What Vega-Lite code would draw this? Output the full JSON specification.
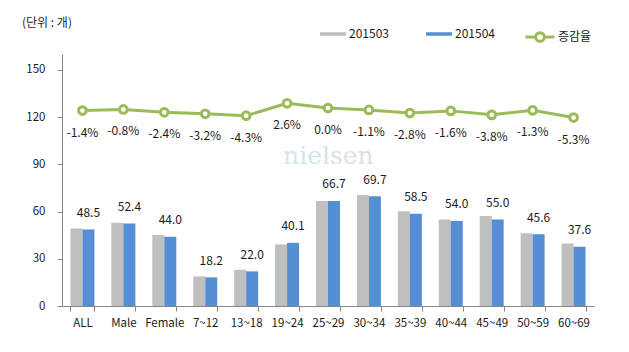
{
  "$schema": "https://vega.github.io/schema/vega-lite/v6.json",
  "autosize": {"type": "none"},
  "width": 532,
  "height": 252,
  "padding": {"left": 62, "top": 54, "right": 35, "bottom": 46},
  "background": "white",
  "title": {"text": "(단위 : 개)", "anchor": "start", "frame": "group", "dx": -40, "offset": 0, "dy": 9, "fontSize": 12, "fontWeight": "normal", "font": "Noto Sans CJK KR", "color": "#1f1f1f"},
  "config": {
    "view": {"stroke": null},
    "font": "Noto Sans CJK KR",
    "locale": {"number": {"decimal": ".", "thousands": ",", "grouping": [3], "currency": ["$", ""], "minus": "-"}}
  },
  "data": {"values": [
    {"group": "ALL", "201503": 49.2, "201504": 48.5, "rate": -0.014},
    {"group": "Male", "201503": 52.8, "201504": 52.4, "rate": -0.008},
    {"group": "Female", "201503": 45.1, "201504": 44.0, "rate": -0.024},
    {"group": "7~12", "201503": 18.8, "201504": 18.2, "rate": -0.032},
    {"group": "13~18", "201503": 23.0, "201504": 22.0, "rate": -0.043},
    {"group": "19~24", "201503": 39.1, "201504": 40.1, "rate": 0.026},
    {"group": "25~29", "201503": 66.7, "201504": 66.7, "rate": 0.0},
    {"group": "30~34", "201503": 70.5, "201504": 69.7, "rate": -0.011},
    {"group": "35~39", "201503": 60.2, "201504": 58.5, "rate": -0.028},
    {"group": "40~44", "201503": 54.9, "201504": 54.0, "rate": -0.016},
    {"group": "45~49", "201503": 57.2, "201504": 55.0, "rate": -0.038},
    {"group": "50~59", "201503": 46.2, "201504": 45.6, "rate": -0.013},
    {"group": "60~69", "201503": 39.7, "201504": 37.6, "rate": -0.053}
  ]},
  "encoding": {
    "x": {
      "field": "group", "type": "nominal",
      "scale": {"domain": ["ALL", "Male", "Female", "7~12", "13~18", "19~24", "25~29", "30~34", "35~39", "40~44", "45~49", "50~59", "60~69"], "paddingInner": 0.414, "paddingOuter": 0.207},
      "axis": {"title": null, "labelAngle": 0, "domainColor": "#868686", "tickColor": "#868686", "tickBand": "extent", "tickSize": 5, "labelFontSize": 11.5, "labelColor": "#1a1a1a", "labelPadding": 6}
    }
  },
  "layer": [
    {
      "layer": [
        {
          "data": {"values": [{"w": "niel"}]},
          "mark": {"type": "text", "font": "DejaVu Serif", "fontSize": 25, "color": "#d3e6ee", "baseline": "middle", "align": "right", "dx": 2},
          "encoding": {"x": {"datum": "25~29"}, "y": {"datum": 95, "type": "quantitative"}, "text": {"field": "w"}}
        },
        {
          "data": {"values": [{"w": "sen"}]},
          "mark": {"type": "text", "font": "DejaVu Serif", "fontSize": 25, "color": "#e0e0e0", "baseline": "middle", "align": "left", "dx": 2},
          "encoding": {"x": {"datum": "25~29"}, "y": {"datum": 95, "type": "quantitative"}, "text": {"field": "w"}}
        },
        {
          "transform": [{"fold": ["201503", "201504"], "as": ["series", "value"]}],
          "mark": {"type": "bar"},
          "encoding": {
            "xOffset": {"field": "series", "type": "nominal", "scale": {"paddingInner": 0, "paddingOuter": 0}},
            "y": {"field": "value", "type": "quantitative", "scale": {"domain": [0, 150]},
              "axis": {"title": null, "values": [0, 30, 60, 90, 120, 150], "grid": false, "domainColor": "#868686", "tickColor": "#868686", "tickSize": 5, "labelPadding": 12, "labelFontSize": 11.5, "labelColor": "#1a1a1a"}},
            "color": {"field": "series", "type": "nominal",
              "scale": {"domain": ["201503", "201504"], "range": ["#bfbfbf", "#558ed5"]},
              "legend": {"orient": "none", "legendX": 258, "legendY": -33, "direction": "horizontal", "title": null, "symbolType": "M-1,-0.135H1V0.135H-1Z", "symbolSize": 676, "symbolStrokeWidth": 0, "labelOffset": 3, "columnPadding": 37, "labelFontSize": 12, "labelColor": "#1a1a1a"}}
          }
        },
        {
          "transform": [{"fold": ["201503", "201504"], "as": ["series", "value"]}, {"filter": "datum.series == '201504'"}],
          "mark": {"type": "text", "dy": -16.5, "fontSize": 12, "color": "#1a1a1a", "baseline": "middle"},
          "encoding": {
            "xOffset": {"field": "series", "type": "nominal"},
            "y": {"field": "value", "type": "quantitative"},
            "text": {"field": "value", "type": "quantitative", "format": ".1f"}
          }
        }
      ]
    },
    {
      "layer": [
        {
          "mark": {"type": "line", "strokeWidth": 3, "point": {"filled": false, "fill": "white", "size": 60, "strokeWidth": 3}},
          "encoding": {
            "y": {"field": "rate", "type": "quantitative", "scale": {"domain": [-1.045, 0.205]}, "axis": null},
            "stroke": {"datum": "증감율", "scale": {"range": ["#9bbb59"]},
              "legend": {"orient": "none", "legendX": 462, "legendY": -33, "direction": "horizontal", "title": null, "symbolType": "M-1,0H-0.3M0.3,0H1M-0.3,0A0.3,0.3,0,1,1,0.3,0A0.3,0.3,0,1,1,-0.3,0", "symbolSize": 841, "symbolStrokeWidth": 3, "symbolFillColor": "white", "labelOffset": 2, "labelFontSize": 12, "labelColor": "#1a1a1a"}}
          }
        },
        {
          "mark": {"type": "text", "dy": 22, "fontSize": 12, "color": "#1a1a1a", "baseline": "middle"},
          "encoding": {
            "y": {"field": "rate", "type": "quantitative"},
            "text": {"field": "rate", "type": "quantitative", "format": ".1%"}
          }
        }
      ]
    }
  ],
  "resolve": {"scale": {"y": "independent"}}
}
